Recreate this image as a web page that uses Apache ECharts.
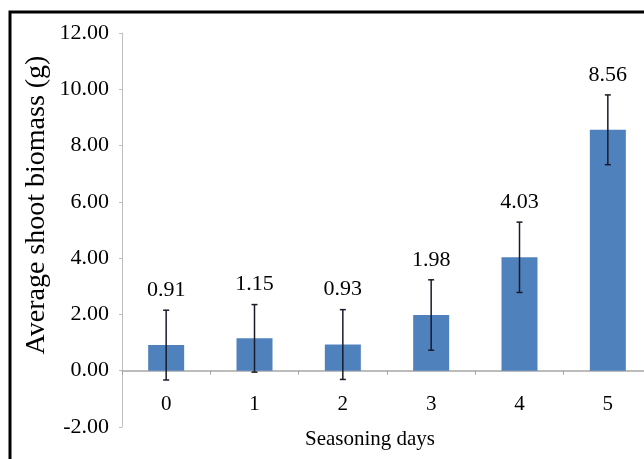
<!DOCTYPE html>
<html><head><meta charset="utf-8">
<script src="https://cdn.jsdelivr.net/npm/echarts@6/dist/echarts.min.js"></script>
<style>html,body{margin:0;padding:0;background:#fff}#c{width:644px;height:459px}</style>
</head><body><div id="c"></div>
<script>
const categories = ['0','1','2','3','4','5'];
const values = [0.91, 1.15, 0.93, 1.98, 4.03, 8.56];
const errors = [1.24, 1.20, 1.24, 1.25, 1.25, 1.24];
const yTicks = {min: -2, max: 12, interval: 2};
const yTitle = 'Average shoot biomass (g)';
const xTitle = 'Seasoning days';

const serif = '"Liberation Serif", "Times New Roman", serif';
const chart = echarts.init(document.getElementById('c'), null, {renderer: 'canvas'});
const errData = values.map((v, i) => [i, v - errors[i], v + errors[i], v]);
const gridTop = 33, gridH = 394;
const zeroOffset = gridH * (0 - yTicks.min) / (yTicks.max - yTicks.min);

chart.setOption({
  animation: false,
  backgroundColor: '#fff',
  grid: {left: 122, top: gridTop, width: 530, height: gridH, outerBoundsMode: 'none', containLabel: false},
  xAxis: {
    type: 'category', data: categories, position: 'bottom', offset: -zeroOffset,
    axisLine: {onZero: false, lineStyle: {color: '#a6a6a6', width: 1.5}},
    axisTick: {show: true, length: 4, lineStyle: {color: '#a6a6a6'}},
    axisLabel: {fontFamily: serif, fontSize: 21, color: '#000', margin: 23}
  },
  yAxis: {
    type: 'value', min: yTicks.min, max: yTicks.max, interval: yTicks.interval,
    splitLine: {show: false},
    axisLine: {show: true, lineStyle: {color: '#bfbfbf', width: 1}},
    axisTick: {show: true, length: 3, lineStyle: {color: '#bfbfbf'}},
    axisLabel: {fontFamily: serif, fontSize: 22, color: '#000', margin: 13,
      formatter: v => v.toFixed(2)}
  },
  series: [
    {type: 'bar', data: values, barWidth: 36, itemStyle: {color: '#4F81BD'}},
    {type: 'custom', data: errData, z: 5,
      renderItem: (params, api) => {
        const x = api.value(0), lo = api.value(1), hi = api.value(2), v = api.value(3);
        const t = api.coord([x, hi]), b = api.coord([x, lo]);
        const hw = 3, st = {stroke: '#1a1a28', lineWidth: 1.5};
        return {type: 'group', children: [
          {type: 'line', shape: {x1: t[0], y1: t[1], x2: b[0], y2: b[1]}, style: st},
          {type: 'line', shape: {x1: t[0]-hw, y1: t[1], x2: t[0]+hw, y2: t[1]}, style: st},
          {type: 'line', shape: {x1: b[0]-hw, y1: b[1], x2: b[0]+hw, y2: b[1]}, style: st},
          {type: 'text', style: {text: v.toFixed(2), x: t[0], y: t[1] - 20,
            align: 'center', verticalAlign: 'middle', font: '22px ' + serif, fill: '#000'}}
        ]};
      }
    }
  ],
  graphic: [
    {type: 'rect', shape: {x: 10, y: 12, width: 700, height: 520},
      style: {fill: 'none', stroke: '#000', lineWidth: 3}},
    {type: 'text', x: 37, y: 205, rotation: Math.PI / 2,
      style: {text: yTitle, font: '28px ' + serif, fill: '#000', align: 'center', verticalAlign: 'middle'}},
    {type: 'text', x: 370, y: 439,
      style: {text: xTitle, font: '21px ' + serif, fill: '#000', align: 'center', verticalAlign: 'middle'}}
  ]
});
</script></body></html>
